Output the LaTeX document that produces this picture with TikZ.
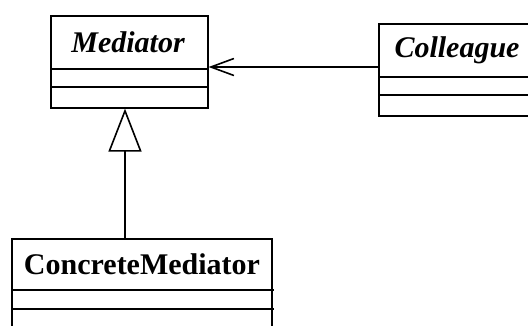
\documentclass[tikz,border=0pt]{standalone}
\usepackage{fontspec}
\setmainfont{Liberation Serif}
\usetikzlibrary{arrows.meta,calc}
\begin{document}
\begin{tikzpicture}[x=1pt,y=-1pt,line width=1.6pt,
  classbox/.style={draw,anchor=north west,inner sep=0pt},
  classname/.style={font=\fontsize{30}{36}\selectfont\bfseries,inner sep=0pt},
  abstractname/.style={classname,font=\fontsize{30}{36}\selectfont\bfseries\itshape}]
\useasboundingbox (0,0) rectangle (528,325);
\clip (0,0) rectangle (528,325);
% Mediator
\node[classbox,minimum width=157pt,minimum height=92pt] (med) at (50,15) {};
\node[abstractname] (medt) at (128,42) {Mediator};
\draw ($(med.north west)+(0,54)$) -- ++(159,0);
\draw ($(med.north west)+(0,72)$) -- ++(159,0);
% Colleague
\node[classbox,minimum width=155pt,minimum height=92pt] (col) at (378,23) {};
\node[abstractname] (colt) at (457,50) {Colleague};
\draw ($(col.north west)+(0,54)$) -- ++(160,0);
\draw ($(col.north west)+(0,72)$) -- ++(160,0);
% ConcreteMediator
\node[classbox,minimum width=260pt,minimum height=110pt] (cm) at (11,238) {};
\node[classname] (cmt) at (142,264) {ConcreteMediator};
\draw ($(cm.north west)+(0,52)$) -- ++(263,0);
\draw ($(cm.north west)+(0,71)$) -- ++(263,0);
% association arrow
\coordinate (a) at ($(col.north west)+(0,44)$);
\draw[-{Straight Barb[length=23pt,width=17pt,line width=1.6pt]}] (a) -- (a -| med.east);
% generalization
\coordinate (g1) at (125,238);
\draw[-{Triangle[open,length=43pt,width=33pt,line width=1.6pt]}] (g1) -- (g1 |- med.south);
\end{tikzpicture}
\end{document}
